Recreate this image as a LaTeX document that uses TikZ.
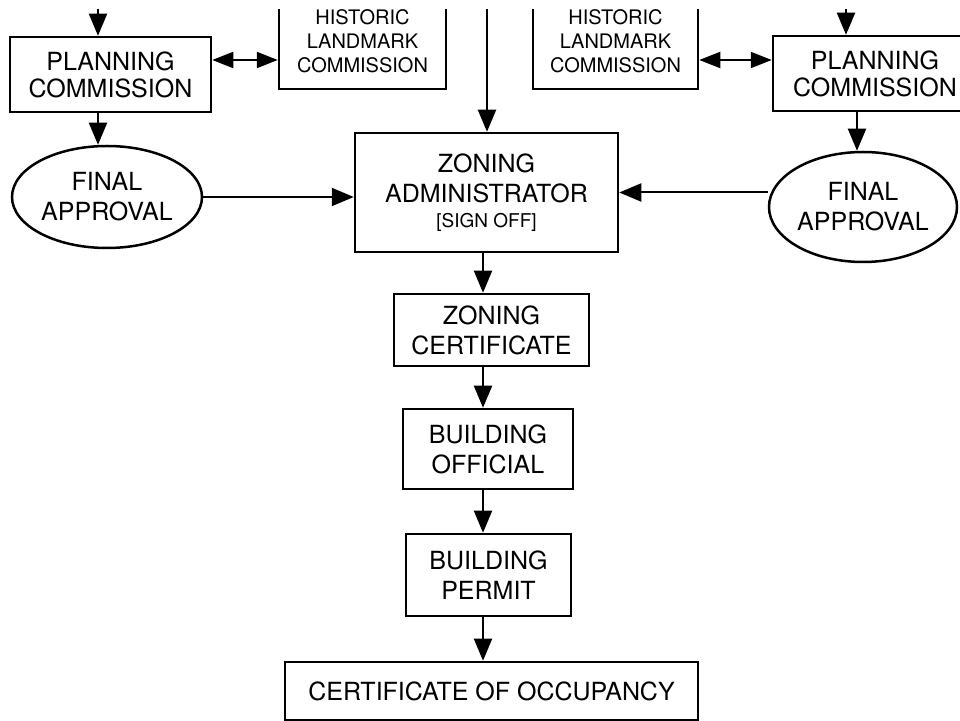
\documentclass[tikz,border=0pt]{standalone}
\usepackage{fontspec}
\setmainfont{TeX Gyre Heros}
\usetikzlibrary{arrows.meta,shapes.geometric}
\begin{document}
\begin{tikzpicture}[x=0.5pt, y=-0.5pt,
    every node/.style={font=\fontsize{12.5}{15}\selectfont, align=center},
    box/.style={draw, line width=1.25pt, inner sep=0pt},
    oval/.style={draw, ellipse, line width=1.25pt, inner sep=0pt},
    arr/.style={line width=1pt, -{Triangle[length=11pt,width=9pt]}},
    arrboth/.style={line width=1pt, {Triangle[length=10.5pt,width=8pt]}-{Triangle[length=10.5pt,width=8pt]}}]
  \useasboundingbox (0,0) rectangle (960,721);
  \clip (0,10) rectangle (960,721);
  % upper row, cut off by the frame
  \node[box, minimum width=100.5pt, minimum height=37.5pt, font=\fontsize{12.5}{13.5}\selectfont] (pcL) at (110.5,74.5) {PLANNING\\COMMISSION};
  \node[box, minimum width=83.5pt, minimum height=47.5pt, font=\fontsize{10}{12}\selectfont] (hlcL) at (362.5,41.5) {HISTORIC\\LANDMARK\\COMMISSION};
  \node[box, minimum width=82.5pt, minimum height=47.5pt, font=\fontsize{10}{12}\selectfont] (hlcR) at (615.5,41.5) {HISTORIC\\LANDMARK\\COMMISSION};
  \node[box, minimum width=102pt, minimum height=37.5pt, font=\fontsize{12.5}{13.5}\selectfont] (pcR) at (875,73.5) {PLANNING\\COMMISSION};
  \node[oval, minimum width=95pt, minimum height=51pt] (ellL) at (107,197) {FINAL\\APPROVAL};
  \node[oval, minimum width=94pt, minimum height=55pt] (ellR) at (863,207) {FINAL\\APPROVAL};
  \node[box, minimum width=131.5pt, minimum height=59.5pt] (za) at (486.5,192.5)
    {ZONING\\ADMINISTRATOR\\[-2.5pt]{\fontsize{9.5}{11}\selectfont [SIGN OFF]}};
  % lower chain
  \node[box, minimum width=97.5pt, minimum height=36pt] (zc) at (491.5,330) {ZONING\\CERTIFICATE};
  \node[box, minimum width=85pt, minimum height=40pt] (bo) at (488,449) {BUILDING\\OFFICIAL};
  \node[box, minimum width=82.5pt, minimum height=41pt] (bp) at (488.5,575) {BUILDING\\PERMIT};
  \node[box, minimum width=206.5pt, minimum height=29pt] (co) at (491.5,691) {CERTIFICATE OF OCCUPANCY};
  \coordinate (topL) at (98,0); \coordinate (topZ) at (487,0);
  \coordinate (topR) at (846,0); \coordinate (downR) at (857,0);
  \coordinate (linkL) at (245,60); \coordinate (linkR) at (735,60);
  \coordinate (spine) at (483,0);
  \draw[arr] (topL) -- (topL |- pcL.north);
  \draw[arr] (topZ) -- (topZ |- za.north);
  \draw[arr] (topR) -- (topR |- pcR.north);
  \draw[arrboth] (linkL -| pcL.east) -- (linkL -| hlcL.west);
  \draw[arrboth] (linkR -| hlcR.east) -- (linkR -| pcR.west);
  \draw[arr] (topL |- pcL.south) -- (topL |- ellL.north);
  \draw[arr] (downR |- pcR.south) -- (downR |- ellR.north);
  \draw[arr] (ellL.east) -- (ellL.east -| za.west);
  \draw[arr] (za.east -| ellR.west) -- (za.east);
  \draw[arr] (spine |- za.south) -- (spine |- zc.north);
  \draw[arr] (spine |- zc.south) -- (spine |- bo.north);
  \draw[arr] (spine |- bo.south) -- (spine |- bp.north);
  \draw[arr] (spine |- bp.south) -- (spine |- co.north);
\end{tikzpicture}
\end{document}
